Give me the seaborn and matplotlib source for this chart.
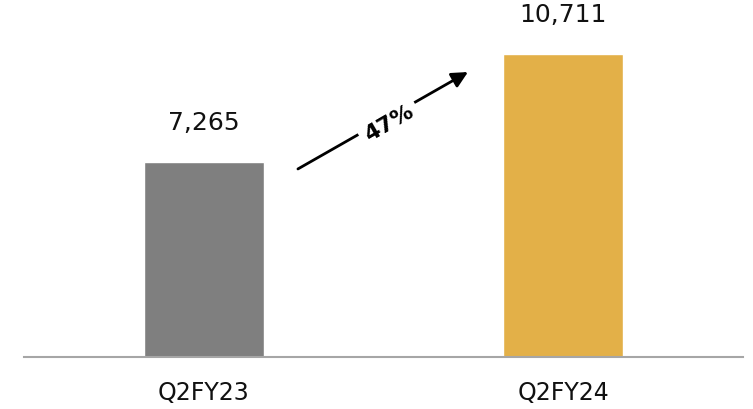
import matplotlib
matplotlib.use("Agg")
import matplotlib.pyplot as plt
import seaborn as sns
import pandas as pd

quarters = ["Q2FY23", "Q2FY24"]
values = [7265, 10711]
bar_colors = ["#7f7f7f", "#e3b048"]
growth_label = "47%"

df = pd.DataFrame({"quarter": quarters, "value": values})

sns.set_theme(style="white")
plt.rcParams["font.family"] = ["DejaVu Sans"]

fig = plt.figure(figsize=(7.53, 4.09), dpi=100)
ax = fig.add_axes([24 / 753, 52 / 409, 719 / 753, 357 / 409])

sns.barplot(data=df, x="quarter", y="value", hue="quarter", palette=bar_colors,
            width=0.334, legend=False, ax=ax, saturation=1)

ax.set_xlim(-0.5, 1.5)
ax.set_ylim(1050, 12450)

for i, v in enumerate(values):
    ax.annotate(f"{v:,}", xy=(i, v), xytext=(0, 20), textcoords="offset points",
                ha="center", va="bottom", fontsize=18, color="#111111")

# growth arrow
ax.annotate("", xy=(0.735, 10150), xytext=(0.262, 7055),
            arrowprops=dict(arrowstyle="-|>,head_length=0.8,head_width=0.4",
                            color="black", lw=2.0, shrinkA=0, shrinkB=0))
ax.text(0.515, 8520, growth_label, rotation=30, ha="center", va="center",
        fontsize=16, fontweight="bold", color="black",
        bbox=dict(facecolor="white", edgecolor="none", pad=4))

ax.set_xlabel("")
ax.set_ylabel("")
ax.set_yticks([])
ax.tick_params(axis="x", length=0, pad=17, labelsize=17, colors="#111111")
for s in ["top", "right", "left"]:
    ax.spines[s].set_visible(False)
ax.spines["bottom"].set_color("#a6a6a6")
ax.spines["bottom"].set_linewidth(1.5)

fig.savefig("out.png", dpi=100)
